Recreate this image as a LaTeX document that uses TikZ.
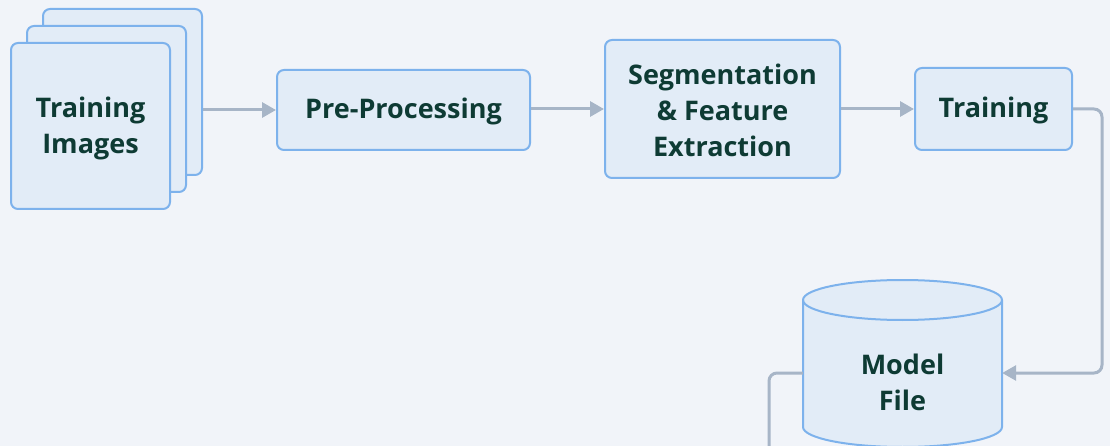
\documentclass[tikz,border=0pt]{standalone}
\usepackage{fontspec}
\setmainfont{Open Sans}
\usetikzlibrary{arrows.meta}
\definecolor{bg}{HTML}{F1F4F9}
\definecolor{boxfill}{HTML}{E2ECF7}
\definecolor{boxline}{HTML}{7DB2EC}
\definecolor{ink}{HTML}{0E3B34}
\definecolor{wire}{HTML}{A7B5C7}
\tikzset{
  label font/.style={text=ink, font=\bfseries\fontsize{27}{36}\selectfont, align=center},
  stepbox/.style={draw=boxline, fill=boxfill, line width=2pt, rounded corners=7pt,
    label font, inner sep=0pt},
  flow/.style={draw=wire, line width=3pt, -{Triangle[length=14pt,width=15pt]}, rounded corners=8pt},
  plain/.style={draw=wire, line width=3pt, rounded corners=8pt}
}
\begin{document}
\begin{tikzpicture}[x=1pt,y=-1pt]
  \fill[bg] (0,0) rectangle (1110,446);
  \useasboundingbox (0,0) rectangle (1110,446);
  \clip (0,0) rectangle (1110,446);

  % stacked image sheets
  \node[stepbox, minimum width=159pt, minimum height=166pt] (img3) at (122.5,92) {};
  \node[stepbox, minimum width=159pt, minimum height=166pt] (img2) at (106.5,109) {};
  \node[stepbox, minimum width=159pt, minimum height=166pt] (img1) at (90.5,126) {};
  \node[label font] at ([yshift=-2pt]img1.center) {Training\\Images};

  \node[stepbox, minimum width=253pt, minimum height=80pt] (pre) at (403.5,110) {};
  \node[label font] at ([yshift=-1pt]pre.center) {Pre-Processing};
  \node[stepbox, minimum width=235pt, minimum height=138pt] (seg) at (722.5,109) {};
  \node[label font] at ([yshift=-1pt]seg.center) {Segmentation\\\& Feature\\Extraction};
  \node[stepbox, minimum width=157pt, minimum height=82pt] (train) at (993.5,109) {};
  \node[label font] at ([yshift=-1pt]train.center) {Training};

  % model file drum
  \filldraw[draw=boxline, fill=boxfill, line width=2pt]
    (803,300) -- (803,427) arc[start angle=180, end angle=360, x radius=99.5pt, y radius=20pt]
    -- (1002,300) arc[start angle=0, end angle=180, x radius=99.5pt, y radius=20pt];
  \draw[draw=boxline, line width=2pt]
    (803,300) arc[start angle=180, end angle=360, x radius=99.5pt, y radius=20pt];
  \node[minimum width=199pt, minimum height=100pt, inner sep=0pt] (model) at (902.5,373) {};
  \node[label font] at ([yshift=-9pt]model.center) {Model\\File};

  % connectors
  \draw[flow] (img3.east |- pre.west) -- (pre.west);
  \draw[flow] (pre.east |- seg.west) -- (seg.west);
  \draw[flow] (seg.east) -- (train.west);
  \draw[flow] (train.east) -- (1102,109) -- (1102,373) -- (model.east);
  \coordinate (down) at (769,460);
  \draw[plain] (model.west) -- (769,373) -- (down);
\end{tikzpicture}
\end{document}
